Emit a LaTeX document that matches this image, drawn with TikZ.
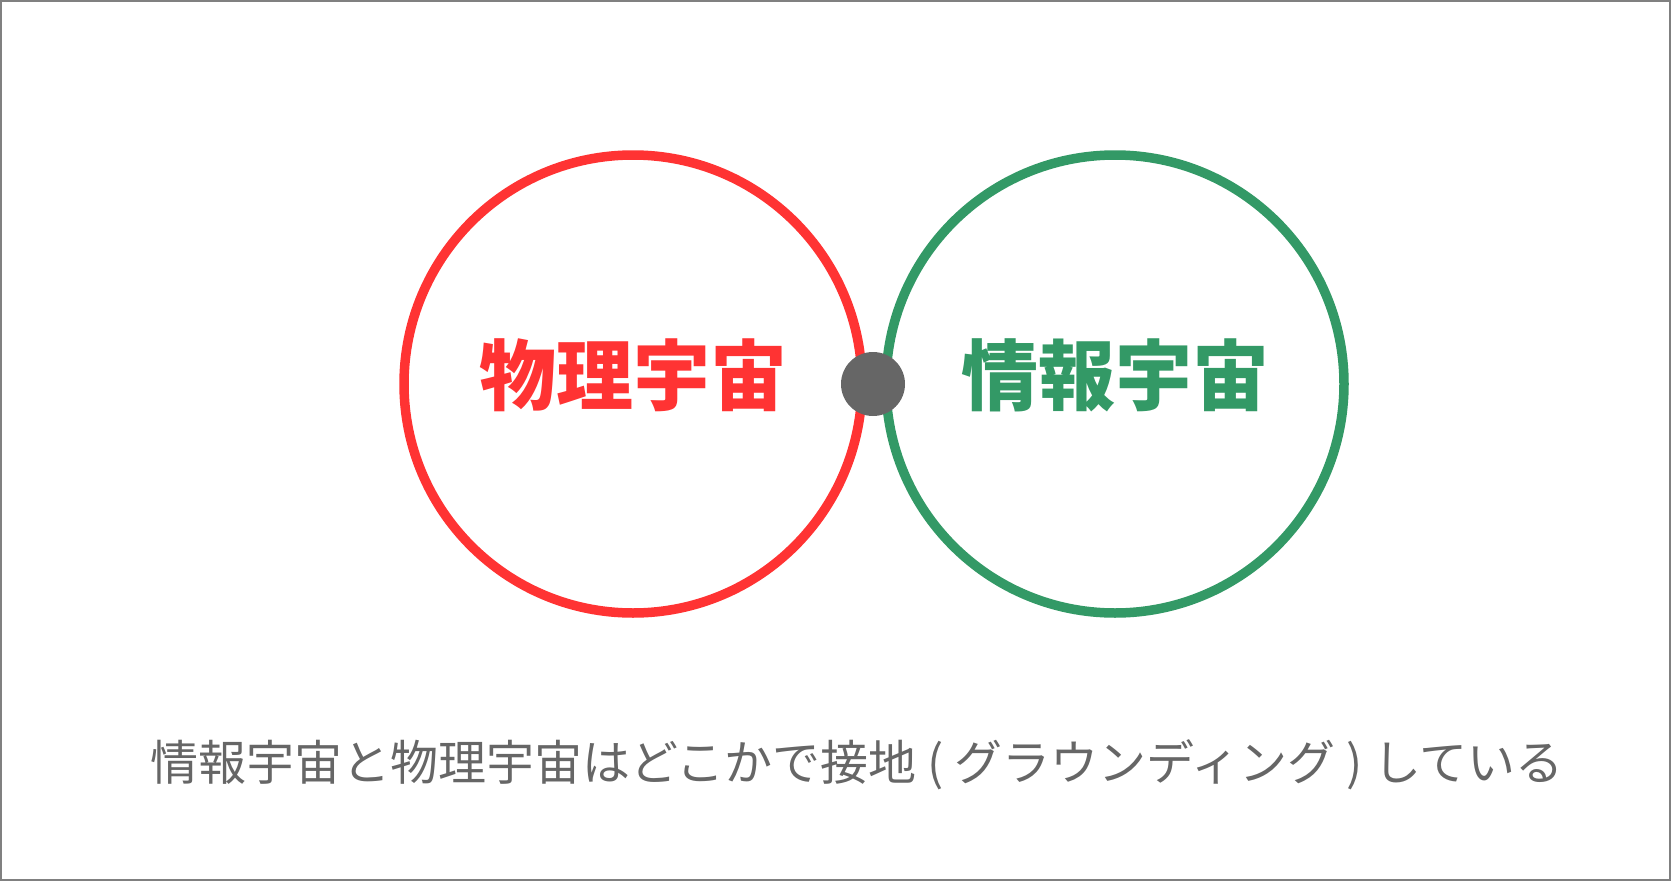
\documentclass[tikz,border=0pt]{standalone}
\usepackage{fontspec}
\newfontfamily\cjk{Noto Sans CJK JP}
\usetikzlibrary{positioning}
\definecolor{physred}{HTML}{FF3333}
\definecolor{infogreen}{HTML}{339966}
\definecolor{dotgray}{HTML}{666666}

\begin{document}
\begin{tikzpicture}[x=1pt, y=-1pt]
  \tikzset{universe/.style={circle, draw, line width=9.5pt, minimum size=458pt, inner sep=0pt},
    title/.style={font=\cjk\bfseries\fontsize{77}{77}\selectfont, yshift=9pt}}
  \useasboundingbox (0,0) rectangle (1671,881);
  \draw[gray, line width=2pt] (1,1) rectangle (1670,880);
  \node[universe, draw=physred] (phys) at (633,384) {};
  \node[universe, draw=infogreen] (info) at (1115,384) {};
  \node[title, text=physred] (physlabel) at (phys.center) {物理宇宙};
  \node[title, text=infogreen] (infolabel) at (info.center) {情報宇宙};
  \node[circle, fill=dotgray, minimum size=64pt, inner sep=0pt] (ground) at (873,384) {};
  \node[text=dotgray, font=\cjk\fontsize{48}{48}\selectfont] (caption) at (857,765)
    {情報宇宙と物理宇宙はどこかで接地 ( グラウンディング ) している};
\end{tikzpicture}
\end{document}
